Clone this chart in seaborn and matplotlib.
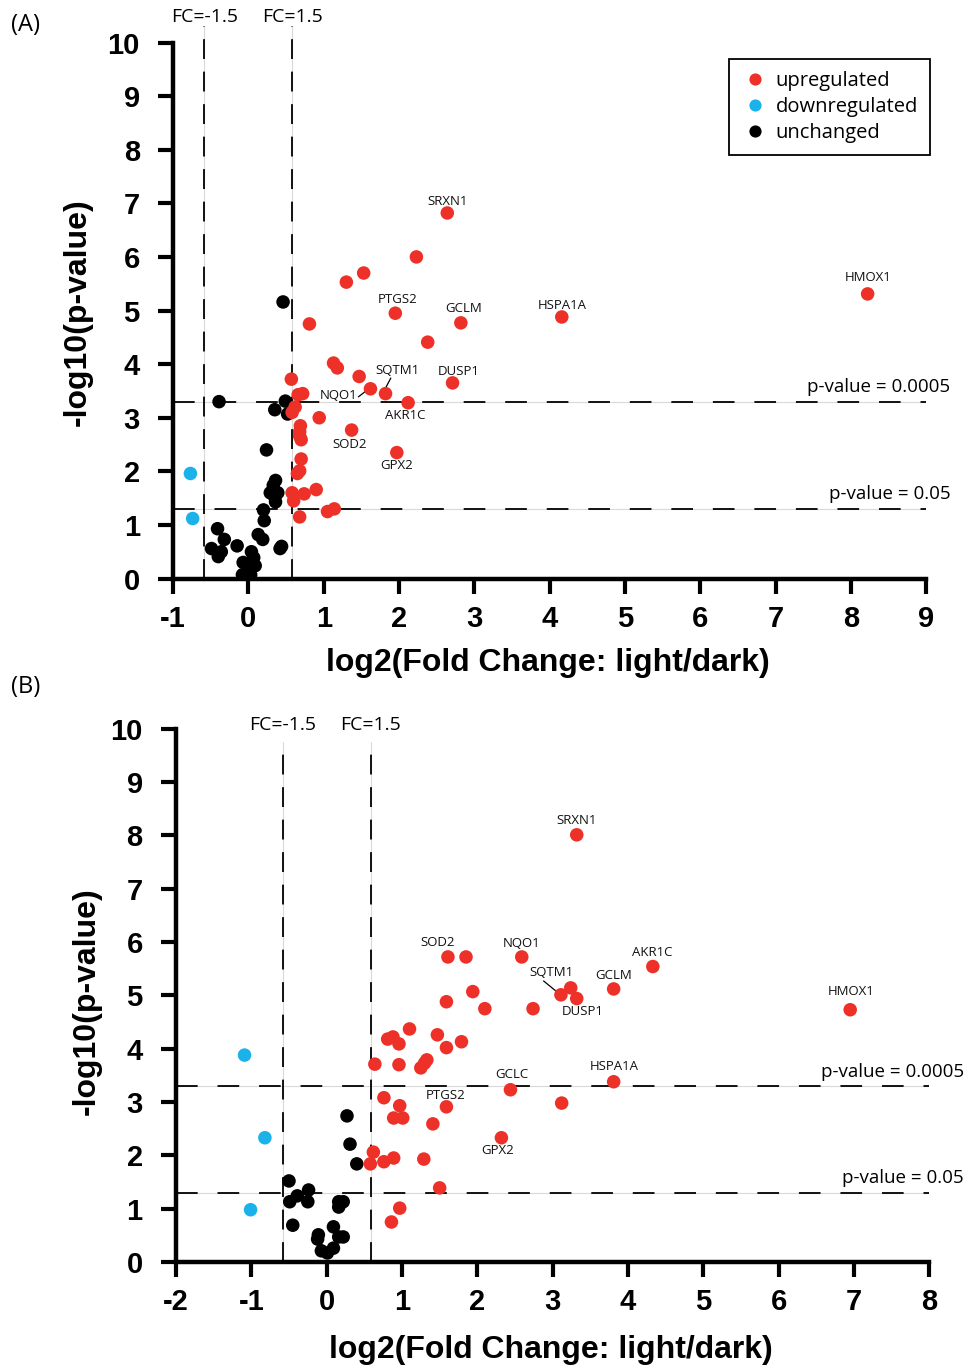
import matplotlib
matplotlib.use("Agg")
import matplotlib.pyplot as plt
import numpy as np
import pandas as pd
import seaborn as sns

# ---- panel A data: log2 fold change / -log10 p ----
a_up_x = [2.64, 8.22, 4.16, 2.82, 1.95, 2.71, 1.82, 1.62, 2.12, 1.37, 1.97,
          2.23, 1.53, 1.30, 0.81, 2.38, 1.13, 1.18, 1.47, 0.57, 0.72, 0.66,
          0.94, 0.62, 0.58, 0.69, 0.68, 0.68, 0.70, 0.70, 0.68, 0.65, 0.58,
          0.60, 0.74, 0.90, 1.05, 1.14, 0.68]
a_up_y = [6.82, 5.31, 4.88, 4.77, 4.95, 3.65, 3.45, 3.54, 3.28, 2.77, 2.35,
          6.00, 5.70, 5.53, 4.75, 4.41, 4.02, 3.93, 3.77, 3.72, 3.45, 3.43,
          3.00, 3.20, 3.10, 2.85, 2.74, 2.66, 2.59, 2.23, 2.01, 1.96, 1.60,
          1.45, 1.58, 1.66, 1.25, 1.30, 1.15]
a_down_x = [-0.77, -0.74]
a_down_y = [1.96, 1.12]
a_unch_x = [0.46, -0.39, 0.49, 0.35, 0.52, 0.24, 0.36, 0.33, 0.29, 0.39,
            0.35, 0.36, 0.20, 0.21, -0.41, -0.32, 0.13, 0.19, -0.15, -0.49,
            -0.36, -0.40, 0.44, 0.42, 0.04, 0.07, -0.07, 0.09, -0.01, -0.08,
            0.03]
a_unch_y = [5.16, 3.30, 3.31, 3.15, 3.07, 2.40, 1.83, 1.74, 1.60, 1.60,
            1.52, 1.43, 1.28, 1.08, 0.93, 0.73, 0.82, 0.73, 0.61, 0.56,
            0.50, 0.41, 0.60, 0.56, 0.50, 0.39, 0.30, 0.24, 0.22, 0.07,
            0.07]

# ---- panel B data ----
b_up_x = [3.32, 6.95, 1.61, 1.85, 2.59, 4.33, 3.24, 3.11, 3.32, 3.81, 1.94,
          1.59, 2.10, 2.74, 1.10, 0.81, 0.88, 0.96, 1.47, 1.59, 1.79, 0.64,
          0.96, 1.25, 1.30, 1.33, 3.81, 2.44, 0.76, 0.97, 1.59, 3.12, 0.89,
          1.01, 1.41, 2.32, 0.62, 0.58, 0.76, 0.89, 1.29, 1.50, 0.97, 0.86]
b_up_y = [8.01, 4.73, 5.72, 5.72, 5.72, 5.54, 5.14, 5.01, 4.94, 5.12, 5.07,
          4.88, 4.75, 4.75, 4.37, 4.18, 4.22, 4.09, 4.26, 4.02, 4.13, 3.71,
          3.70, 3.64, 3.73, 3.79, 3.38, 3.23, 3.08, 2.93, 2.91, 2.98, 2.70,
          2.70, 2.59, 2.33, 2.06, 1.84, 1.88, 1.95, 1.93, 1.39, 1.01, 0.75]
b_down_x = [-1.09, -0.82, -1.01]
b_down_y = [3.88, 2.33, 0.98]
b_unch_x = [0.27, 0.31, 0.40, -0.50, -0.24, -0.39, -0.49, -0.25, 0.16, 0.22,
            0.16, -0.45, 0.09, -0.11, -0.12, 0.16, 0.22, -0.07, 0.09, 0.01]
b_unch_y = [2.74, 2.21, 1.84, 1.52, 1.35, 1.24, 1.13, 1.13, 1.13, 1.13,
            1.03, 0.69, 0.66, 0.51, 0.43, 0.47, 0.47, 0.21, 0.26, 0.17]

# gene label layout (text centre in data units) and leader lines
a_label_pos = {"SRXN1": (2.64, 7.04), "HMOX1": (8.22, 5.62),
               "HSPA1A": (4.16, 5.10), "GCLM": (2.86, 5.03),
               "PTGS2": (1.98, 5.21), "DUSP1": (2.79, 3.87),
               "SQTM1": (1.98, 3.89), "NQO1": (1.20, 3.41),
               "AKR1C": (2.08, 3.05), "SOD2": (1.34, 2.50),
               "GPX2": (1.97, 2.10)}
a_leaders = [((1.89, 3.74), (1.80, 3.50)), ((1.46, 3.39), (1.57, 3.51))]
b_label_pos = {"SRXN1": (3.32, 8.27), "HMOX1": (6.96, 5.07),
               "SOD2": (1.47, 6.00), "NQO1": (2.59, 5.98),
               "AKR1C": (4.32, 5.80), "SQTM1": (2.99, 5.42),
               "GCLM": (3.81, 5.38), "DUSP1": (3.40, 4.69),
               "HSPA1A": (3.82, 3.66), "GCLC": (2.46, 3.51),
               "PTGS2": (1.58, 3.13), "GPX2": (2.27, 2.10)}
b_leaders = [((2.88, 5.27), (3.07, 5.05))]

FC = np.log2(1.5)
P_HI = -np.log10(0.0005)
P_LO = -np.log10(0.05)

palette = {"upregulated": "#EE3128", "downregulated": "#1BB2EA",
           "unchanged": "#000000"}


def make_frame(up_x, up_y, dn_x, dn_y, un_x, un_y):
    parts = [pd.DataFrame({"fc": un_x, "p": un_y, "status": "unchanged"}),
             pd.DataFrame({"fc": dn_x, "p": dn_y, "status": "downregulated"}),
             pd.DataFrame({"fc": up_x, "p": up_y, "status": "upregulated"})]
    return pd.concat(parts, ignore_index=True)


sns.set_theme(style="white")
plt.rcParams["font.family"] = ["Liberation Sans", "DejaVu Sans"]
plt.rcParams["axes.unicode_minus"] = False
for key in ("text.color", "axes.labelcolor", "xtick.color", "ytick.color",
            "xtick.labelcolor", "ytick.labelcolor"):
    plt.rcParams[key] = "black"

fig = plt.figure(figsize=(9.67, 13.71), dpi=100)
ax_a = fig.add_axes([0.179, 0.578, 0.779, 0.391])
ax_b = fig.add_axes([0.182, 0.0795, 0.779, 0.389])

thin = dict(color="#d9d9d9", lw=0.8, zorder=1)
dash_h = dict(color="black", lw=1.3, dashes=(12, 11), zorder=1.5)
dash_v = dict(color="black", lw=1.3, dashes=(11, 7), zorder=1.5)
label_font = dict(family="Open Sans", fontsize=9.5, color="#111111")


def draw_panel(ax, df, xlim, vtop, fc_y, ptxt_x, label_pos, leaders, legend):
    ax.set_xlim(*xlim)
    ax.set_ylim(0, 10)

    # threshold lines: thin grey line under black dashes
    for x in (-FC, FC):
        ax.plot([x, x], [0, vtop], clip_on=False, **thin)
        ax.plot([x, x], [0, vtop], clip_on=False, **dash_v)
        txt = "FC=-1.5" if x < 0 else "FC=1.5"
        ax.text(x, fc_y, txt, ha="center", va="center", fontsize=14,
                family="Open Sans", clip_on=False)
    for y, txt in ((P_HI, "p-value = 0.0005"), (P_LO, "p-value = 0.05")):
        ax.plot(xlim, [y, y], **thin)
        ax.plot(xlim, [y, y], **dash_h)
        ax.text(ptxt_x, y + 0.1, txt, ha="right", va="bottom", fontsize=13.5,
                family="Open Sans", clip_on=False)

    sns.scatterplot(data=df, x="fc", y="p", hue="status", palette=palette,
                    hue_order=["upregulated", "downregulated", "unchanged"],
                    s=95, edgecolor="none", linewidth=0, ax=ax, zorder=3,
                    legend=legend)

    for gene, (tx, ty) in label_pos.items():
        ax.text(tx, ty, gene, ha="center", va="center", **label_font)
    for (x0, y0), (x1, y1) in leaders:
        ax.plot([x0, x1], [y0, y1], color="black", lw=0.9, zorder=2)

    ax.set_xticks(np.arange(xlim[0], xlim[1] + 1))
    ax.set_yticks(np.arange(0, 11))
    for side in ("top", "right"):
        ax.spines[side].set_visible(False)
    for side in ("left", "bottom"):
        ax.spines[side].set_linewidth(3.2)
        ax.spines[side].set_color("black")
    ax.tick_params(axis="both", which="major", direction="out", length=11,
                   width=3, color="black", labelcolor="black", labelsize=21,
                   left=True, bottom=True)
    ax.tick_params(axis="x", pad=8)
    ax.tick_params(axis="y", pad=13)
    for lab in ax.get_xticklabels() + ax.get_yticklabels():
        lab.set_fontweight("bold")
    ax.set_xlabel("log2(Fold Change: light/dark)", fontsize=23,
                  fontweight="bold", color="black")
    ax.set_ylabel("-log10(p-value)", fontsize=23, fontweight="bold",
                  color="black")


df_a = make_frame(a_up_x, a_up_y, a_down_x, a_down_y, a_unch_x, a_unch_y)
df_b = make_frame(b_up_x, b_up_y, b_down_x, b_down_y, b_unch_x, b_unch_y)

draw_panel(ax_a, df_a, (-1, 9), 10.3, 10.48, 9.32, a_label_pos, a_leaders,
           legend=True)
draw_panel(ax_b, df_b, (-2, 8), 9.75, 10.07, 8.46, b_label_pos, b_leaders,
           legend=False)

ax_a.xaxis.set_label_coords(0.498, -0.13)
ax_a.yaxis.set_label_coords(-0.106, 0.497)
ax_b.xaxis.set_label_coords(0.498, -0.136)
ax_b.yaxis.set_label_coords(-0.098, 0.49)

handles, labels = ax_a.get_legend_handles_labels()
leg = ax_a.legend(handles, labels, loc="upper right",
                  bbox_to_anchor=(1.005, 0.970), borderaxespad=0,
                  frameon=True, fancybox=False,
                  edgecolor="black", framealpha=1, markerscale=0.9,
                  prop={"family": "Open Sans", "size": 14.5},
                  handletextpad=0.4, borderpad=0.6, labelspacing=0.3,
                  handlelength=1.3)
leg.get_frame().set_linewidth(1.3)

fig.text(0.011, 0.982, "(A)", fontsize=17, family="Open Sans", va="center")
fig.text(0.011, 0.499, "(B)", fontsize=17, family="Open Sans", va="center")

fig.savefig("out.png", dpi=100, facecolor="white")
